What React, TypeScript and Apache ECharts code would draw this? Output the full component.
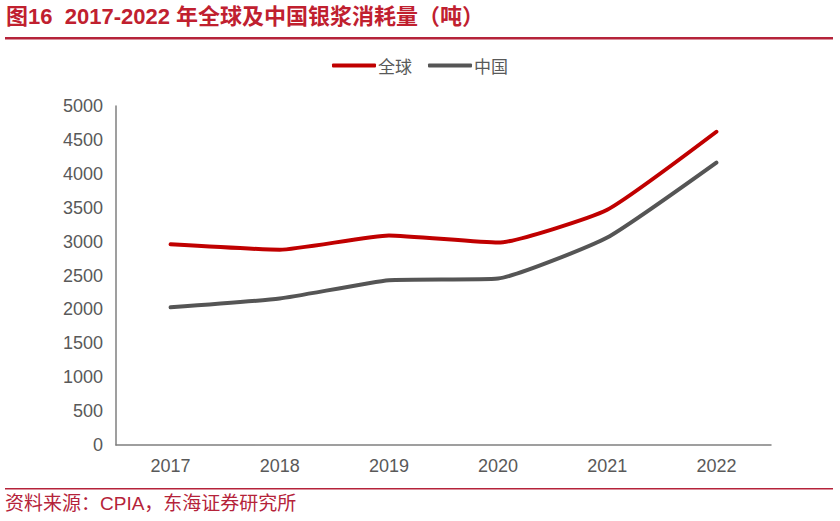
import React, { useEffect, useRef } from "react";
import * as echarts from "echarts";

const years = ["2017", "2018", "2019", "2020", "2021", "2022"];
const globalVals = [2960, 2880, 3090, 2985, 3470, 4620];
const chinaVals = [2030, 2160, 2430, 2455, 3060, 4165];
const seriesNames = ["全球", "中国"];
const titleText = "图16  2017-2022 年全球及中国银浆消耗量（吨）";
const sourceText = "资料来源：CPIA，东海证券研究所";

export default function App() {
  const ref = useRef<HTMLDivElement>(null);
  useEffect(() => {
    const chart = echarts.init(ref.current!, null, { renderer: "svg" });
    const red = "#c00000";
    const gray = "#555555";
    const labelColor = "#595959";
    chart.setOption({
      animation: false,
      backgroundColor: "#ffffff",
      textStyle: { fontFamily: "Liberation Sans, Noto Sans CJK SC, sans-serif" },
      graphic: [
        {
          type: "text",
          left: 6,
          top: 5,
          style: {
            text: titleText,
            fill: "#c0202f",
            font: "bold 22px 'Liberation Sans Narrow', 'Liberation Sans', 'Noto Sans CJK SC', sans-serif",
          },
        },
        {
          type: "rect",
          shape: { x: 5, y: 37, width: 828, height: 2.5 },
          style: { fill: "#b5233a" },
        },
        {
          type: "rect",
          shape: { x: 5, y: 488, width: 828, height: 1.5 },
          style: { fill: "#b5233a" },
        },
        {
          type: "text",
          left: 5,
          top: 494,
          style: {
            text: sourceText,
            fill: "#b5233a",
            font: "19px 'Liberation Sans', 'Noto Sans CJK SC', sans-serif",
          },
        },
      ],
      legend: {
        data: seriesNames,
        top: 52,
        left: "center",
        itemWidth: 44,
        itemHeight: 4,
        itemGap: 16,
        icon: "roundRect",
        textStyle: {
          color: labelColor,
          fontSize: 17,
          fontFamily: "Noto Sans CJK SC, sans-serif",
          padding: [0, 0, 0, -3],
        },
      },
      grid: { left: 116, right: 69, top: 106, bottom: 76, containLabel: false },
      xAxis: {
        type: "category",
        data: years,
        boundaryGap: true,
        axisLine: { lineStyle: { color: "#7f7f7f", width: 1.5 } },
        axisTick: { show: false },
        axisLabel: { color: labelColor, fontSize: 18, margin: 12 },
      },
      yAxis: {
        type: "value",
        min: 0,
        max: 5000,
        interval: 500,
        axisLine: { show: true, lineStyle: { color: "#7f7f7f", width: 1.5 } },
        axisTick: { show: false },
        splitLine: { show: false },
        axisLabel: {
          color: labelColor,
          fontSize: 18,
          margin: 13,
          formatter: (v: number) => String(v),
        },
      },
      series: [
        {
          name: seriesNames[0],
          type: "line",
          data: globalVals,
          smooth: 0.15,
          symbol: "none",
          lineStyle: { color: red, width: 4, cap: "round" },
          itemStyle: { color: red },
        },
        {
          name: seriesNames[1],
          type: "line",
          data: chinaVals,
          smooth: 0.15,
          symbol: "none",
          lineStyle: { color: gray, width: 4, cap: "round" },
          itemStyle: { color: gray },
        },
      ],
    });
    return () => chart.dispose();
  }, []);
  return (
    <div
      ref={ref}
      style={{ position: "fixed", left: 0, top: 0, width: 840, height: 521 }}
    />
  );
}
